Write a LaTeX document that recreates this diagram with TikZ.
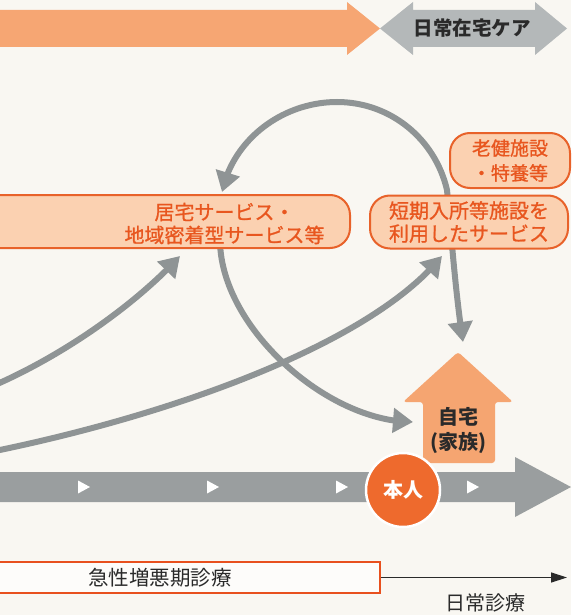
\documentclass[tikz,border=0pt]{standalone}
\usepackage{fontspec}
\setmainfont{Noto Sans CJK JP}
\newfontfamily\medfont[FakeBold=1]{Noto Sans CJK JP}
\usetikzlibrary{arrows.meta,bending}
\definecolor{bg}{HTML}{F9F7F2}
\definecolor{orangeA}{HTML}{F6A673}
\definecolor{grayA}{HTML}{B4B8B9}
\definecolor{boxfill}{HTML}{FBD1B1}
\definecolor{boxline}{HTML}{E8622A}
\definecolor{boxtext}{HTML}{E8561F}
\definecolor{garr}{HTML}{8F9495}
\definecolor{housec}{HTML}{F5A571}
\definecolor{honinc}{HTML}{EE6A2D}
\definecolor{bandc}{HTML}{9A9E9F}
\definecolor{redline}{HTML}{E8501E}
\definecolor{txt}{HTML}{2A2A2A}
\begin{document}
\begin{tikzpicture}[x=1pt,y=-1pt,
  svcbox/.style={draw=boxline, line width=2pt, fill=boxfill, rounded corners=20pt,
    text=boxtext, align=center, inner sep=0pt,
    font=\medfont\fontsize{20pt}{23pt}\selectfont},
  svctext/.style={text=boxtext, align=center, inner sep=0pt,
    font=\medfont\fontsize{20pt}{23pt}\selectfont},
  garrow/.style={draw=garr, line width=6pt, >={Triangle[length=20pt,width=24pt]}},
  plaintext/.style={text=txt, inner sep=0pt, font=\fontsize{20pt}{24pt}\selectfont},
  boldtext/.style={inner sep=0pt, align=center, font=\bfseries\fontsize{20pt}{25pt}\selectfont}
]
\useasboundingbox (0,0) rectangle (571,615);
\clip (0,0) rectangle (571,615);
\fill[bg] (0,0) rectangle (571,615);

% top arrows
\fill[orangeA] (-5,10) -- (347,10) -- (347,2) -- (380,28.5) -- (347,55) -- (347,47) -- (-5,47) -- cycle;
\fill[grayA] (380,28.5) -- (413,2) -- (413,10) -- (535,10) -- (535,2) -- (567,28.5)
  -- (535,55) -- (535,47) -- (413,47) -- (413,55) -- cycle;
\node[boldtext, text=txt, font=\bfseries\fontsize{19.5pt}{24pt}\selectfont] (zaitaku) at (472,28.5) {日常在宅ケア};

% connector end points
\coordinate (aStart) at (-5,385);
\coordinate (aEnd) at (180,256);
\coordinate (bStart) at (-5,451);
\coordinate (bEnd) at (442,256);
\coordinate (cStart) at (220,240);
\coordinate (cEnd) at (413,422);
\coordinate (loopL) at (222,192);
\coordinate (loopB) at (463,342);

% gray connectors
\draw[garrow,->] (aStart) .. controls (70,352) and (140,300) .. (aEnd);
\draw[garrow,->] (bStart) .. controls (170,415) and (370,345) .. (bEnd);
\draw[garrow,->] (cStart) .. controls (220,326) and (326,422) .. (cEnd);
\draw[garrow,<->] (loopL) .. controls (233,139) and (283,102) .. (337,102)
  .. controls (390,102) and (435,138.5) .. (447,190)
  .. controls (451,230) and (455,290) .. (loopB);

% service boxes
\node[svcbox, minimum width=380pt, minimum height=53pt] (kyotaku) at (160,221.5) {};
\node[svctext] (kyotakutext) at (224.5,223.5) {居宅サービス・\\地域密着型サービス等};
\node[svcbox, minimum width=198pt, minimum height=53pt] (tanki) at (469,222) {短期入所等施設を\\利用したサービス};
\node[svcbox, minimum width=120pt, minimum height=55pt,
  font=\medfont\fontsize{19pt}{25pt}\selectfont] (roken) at (510,160.5) {老健施設\\・特養等};

% house
\fill[housec, rounded corners=3pt] (458,352) -- (513,402) -- (495,402) -- (495,463)
  -- (423,463) -- (423,402) -- (403,402) -- cycle;
\node[boldtext, text=txt] (jitaku) at (458,430) {自宅\\(家族)};

% timeline band
\fill[bandc] (-5,472) -- (515,472) -- (515,457) -- (571,487) -- (515,517) -- (515,502) -- (-5,502) -- cycle;
\foreach \x in {84,213,342,473}
  \fill[white] (\x-6,480.5) -- (\x+6,487) -- (\x-6,493.5) -- cycle;
\node[circle, fill=honinc, draw=white, line width=2.5pt, minimum size=74pt, inner sep=0pt,
  boldtext, text=white] (honin) at (403,490) {本人};

% bottom
\node[draw=redline, line width=2pt, fill=white!60!bg, minimum width=385pt, minimum height=31pt,
  inner sep=0pt] (kyusei) at (187.5,577.5) {};
\node[plaintext, font=\fontsize{20.5pt}{24pt}\selectfont] (kyuseitext) at (160,578) {急性増悪期診療};
\coordinate (nichijo) at (567,577.5);
\draw[draw=txt, line width=1.3pt, -{Triangle[length=16pt,width=10pt]}] (kyusei.east) -- (nichijo);
\node[plaintext] (nichijotext) at (485,603) {日常診療};
\end{tikzpicture}
\end{document}
